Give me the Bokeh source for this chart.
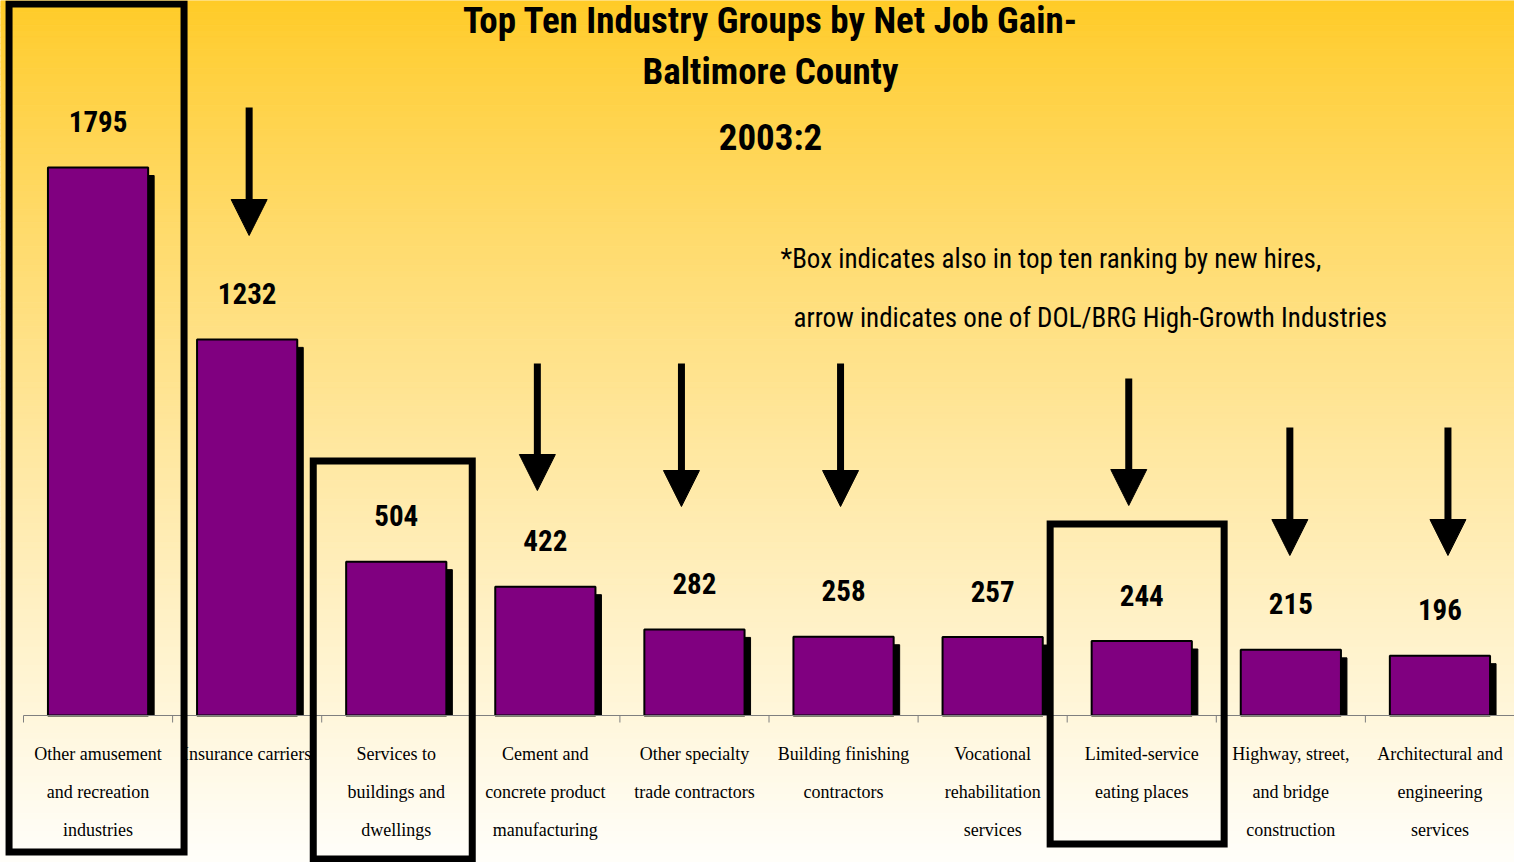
import numpy as np
from bokeh.plotting import figure
from bokeh.models import Range1d, ColumnDataSource
from bokeh.core.properties import value
from bokeh.embed import file_html
from bokeh.resources import INLINE

# ---------------- data ----------------
categories = [
    "Other amusement\nand recreation\nindustries",
    "Insurance carriers",
    "Services to\nbuildings and\ndwellings",
    "Cement and\nconcrete product\nmanufacturing",
    "Other specialty\ntrade contractors",
    "Building finishing\ncontractors",
    "Vocational\nrehabilitation\nservices",
    "Limited-service\neating places",
    "Highway, street,\nand bridge\nconstruction",
    "Architectural and\nengineering\nservices",
]
net_job_gain = [1795, 1232, 504, 422, 282, 258, 257, 244, 215, 196]
boxed = [0, 2, 7]                  # also top ten by new hires
arrowed = [1, 3, 4, 5, 7, 8, 9]    # DOL/BRG high-growth industries
title_lines = ["Top Ten Industry Groups by Net Job Gain-", "Baltimore County", "2003:2"]
note_lines = ["*Box  indicates also in top ten ranking by new hires,",
              "arrow indicates one of DOL/BRG High-Growth Industries"]

# ---------------- layout (page pixels) ----------------
W, H = 1514, 862
PAGE = 0
SLOT_PX = 149.1
SLOT0_PX = 23
BASE_PX = 715
PX_PER_UNIT = 548 / 1795


def X(px):
    return (px - SLOT0_PX) / SLOT_PX


def Y(px):
    return (BASE_PX - px) / PX_PER_UNIT


def dX(px):
    return px / SLOT_PX


def dY(px):
    return px / PX_PER_UNIT


p = figure(width=W, height=H, x_range=Range1d(X(PAGE), X(PAGE + W)),
           y_range=Range1d(Y(PAGE + H), Y(PAGE)),
           output_backend="svg", toolbar_location=None, min_border=0,
           x_axis_location=None, y_axis_location=None)
p.grid.visible = False
p.outline_line_color = None
p.background_fill_color = "#FFFDF8"
p.border_fill_color = "#FFFDF8"

# gradient background
n = 140
edges = np.linspace(PAGE, PAGE + H, n + 1)
cols = []
for k in range(n):
    t = ((edges[k] + edges[k + 1]) / 2) / 862.0
    g = int(round(203 + 51 * t ** 0.9))
    b = int(round(38 + 212 * t ** 0.85))
    cols.append("#%02x%02x%02x" % (255, min(g, 255), min(b, 255)))
p.quad(left=X(PAGE), right=X(PAGE + W), top=[Y(e) for e in edges[:-1]],
       bottom=[Y(e) for e in edges[1:]], fill_color=cols, line_color=cols, line_width=1)

# bars
idx = np.arange(len(net_job_gain))
centers = idx + 0.5
half = 0.336
src = ColumnDataSource(dict(left=centers - half, right=centers + half,
                            top=net_job_gain, cx=centers,
                            lab=[str(v) for v in net_job_gain]))
shadow = ColumnDataSource(dict(left=centers - half + dX(6), right=centers + half + dX(6),
                               top=[v - dY(8) for v in net_job_gain]))
p.quad(left="left", right="right", top="top", bottom=0, source=shadow,
       fill_color="black", line_color="black")
p.quad(left="left", right="right", top="top", bottom=0, source=src,
       fill_color="#800080", line_color="black", line_width=2)

# axis line and ticks
p.segment(x0=X(SLOT0_PX), y0=0, x1=X(PAGE + W) + 1, y1=0, line_color="#7f7f7f", line_width=1)
tk = np.arange(0, 11)
p.segment(x0=tk, y0=0, x1=tk, y1=-dY(7), line_color="#7f7f7f", line_width=1)

# value labels
p.text(x="cx", y="top", text="lab", source=src, y_offset=-46,
       text_align="center", text_baseline="middle",
       text_font=value("Roboto Condensed"), text_font_style="bold",
       text_font_size="29px", text_color="black")

# category labels (one glyph per line)
lx, ly, lt = [], [], []
for i, c in enumerate(categories):
    for k, line in enumerate(c.split("\n")):
        lx.append(i + 0.5)
        ly.append(Y(753 + 38 * k))
        lt.append(line)
p.text(x=lx, y=ly, text=lt, text_align="center", text_baseline="middle",
       text_font=value("Liberation Serif"), text_font_size="18px", text_color="black")

# arrows (x offset px, tip px, length px)
arrow_dx = [2, -8, -13, -3, -13, -1, 8]
tip_px = [235, 490, 506, 506, 505, 555, 555]
len_px = [128, 127, 143, 143, 127, 128, 128]
for c, ox, tp, ln in zip(arrowed, arrow_dx, tip_px, len_px):
    cx = c + 0.5 + dX(ox)
    p.segment(x0=cx, y0=Y(tp - ln), x1=cx, y1=Y(tp - 30), line_color="black",
              line_width=7, line_cap="butt")
    p.patch(x=[cx - dX(18), cx + dX(18), cx], y=[Y(tp - 36), Y(tp - 36), Y(tp)],
            fill_color="black", line_color="black")

# boxes (category, x offset px, half width px, top px, bottom px)
box_geom = [(96 - 97.5, 87.5, 3.5, 851.5), (392 - 395.5, 79.5, 460.5, 858.5),
            (1136.5 - 1141.1, 87, 523.5, 843.5)]
for c, (off, hw, tpx, bpx) in zip(boxed, box_geom):
    cx = c + 0.5 + dX(off)
    p.quad(left=cx - dX(hw), right=cx + dX(hw), top=Y(tpx), bottom=Y(bpx),
           fill_color=None, line_color="black", line_width=7, line_join="miter")

# title
title_y = [20, 71, 137]
for k, line in enumerate(title_lines):
    p.text(x=[X(770)], y=[Y(title_y[k])], text=[line], text_align="center",
           text_baseline="middle", text_font=value("Roboto Condensed"),
           text_font_style="bold", text_font_size="37px", text_color="black")

# note
note_x = [780, 793]
note_y = [258, 317]
for k, line in enumerate(note_lines):
    p.text(x=[X(note_x[k])], y=[Y(note_y[k])], text=[line], text_align="left",
           text_baseline="middle", text_font=value("Roboto Condensed"),
           text_font_size="27px", text_color="black")

open("out.html", "w").write(file_html(p, INLINE))
